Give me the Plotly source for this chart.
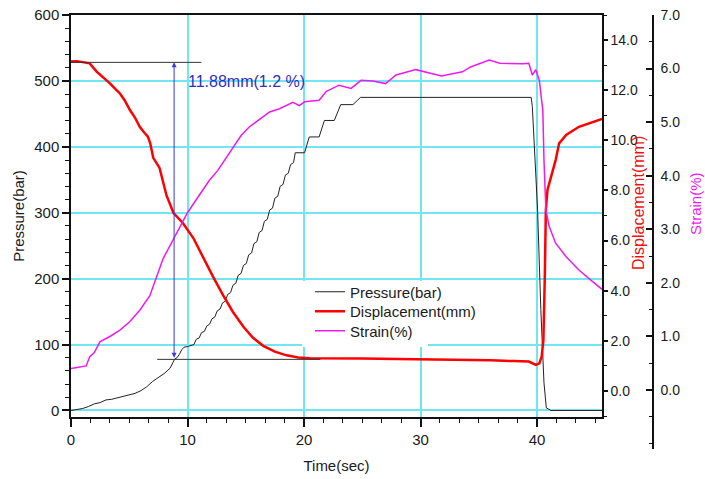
import plotly.graph_objects as go

# ---------------- data ----------------
time_p = [0, 0.5, 1.0, 1.5, 2.0, 2.5, 3.0, 3.5, 4.0, 4.5, 5.0, 5.5, 6.0, 6.5, 7.0, 7.5,
          8.0, 8.5, 8.7, 8.9, 9.1, 9.3, 9.5, 9.7, 10.0, 10.55, 10.75, 11.0, 11.2, 11.45,
          11.65, 11.9, 12.1, 12.35, 12.55, 12.8, 13.0, 13.25, 13.45, 13.7, 13.9, 14.15,
          14.35, 14.6, 14.8, 15.05, 15.25, 15.5, 15.7, 15.95, 16.15, 16.4, 16.6, 16.85,
          17.05, 17.3, 17.5, 17.75, 17.95, 18.2, 18.4, 18.65, 18.85, 19.1, 19.25, 20.05,
          20.45, 21.3, 21.75, 22.6, 23.15, 24.2, 24.85, 39.5, 39.6, 39.76, 40.05, 40.33,
          40.6, 40.8, 41.2, 45.58]
pressure = [0, 1, 3, 6, 10, 12, 16, 17, 19, 22, 23, 26, 30, 36, 44, 50,
            56, 64, 70, 78, 80, 85, 92, 96, 97, 100, 108, 110, 118, 120,
            128, 131, 139, 142, 151, 154, 163, 166, 176, 179, 190, 193,
            205, 208, 220, 223, 236, 239, 253, 256, 270, 273, 287, 290,
            304, 307, 322, 325, 340, 343, 357, 360, 373, 376, 391, 391,
            415, 415, 440, 440, 464, 464, 475, 475, 461, 405, 304, 153,
            42, 4, 0, 0]

time_d = [0, 0.5, 1.0, 1.6, 2.2, 2.8, 3.34, 3.8, 4.2, 4.6, 5.06, 5.5, 5.9, 6.3, 6.6,
          6.8, 7.06, 7.6, 8.2, 8.8, 9.6, 10.5, 11.3, 12.2, 13.05, 13.9, 14.8, 15.6,
          16.5, 17.5, 18.5, 19.5, 20.5, 22.0, 25.0, 28.0, 30.2, 33.0, 36.0, 38.0,
          39.3, 39.9, 40.2, 40.4, 40.55, 40.67, 40.76, 40.9, 41.2, 41.6, 41.9, 42.5,
          43.6, 44.8, 45.58]
displacement = [13.14, 13.15, 13.12, 13.07, 12.74, 12.5, 12.27, 12.05, 11.87, 11.6, 11.21,
                10.9, 10.54, 10.3, 10.15, 9.88, 9.3, 8.9, 7.8, 7.1, 6.7, 6.1, 5.35, 4.55,
                3.82, 3.15, 2.56, 2.13, 1.8, 1.57, 1.42, 1.33, 1.30, 1.30, 1.29, 1.27,
                1.26, 1.25, 1.22, 1.19, 1.17, 1.04, 1.10, 1.37, 2.03, 4.56, 7.22, 8.02,
                8.55, 9.21, 9.88, 10.21, 10.54, 10.74, 10.85]

time_s = [0, 0.77, 1.3, 1.6, 2.0, 2.48, 3.34, 4.2, 5.06, 5.9, 6.77, 7.9, 8.8, 10.0,
          11.05, 11.9, 12.6, 13.6, 14.6, 15.3, 16.2, 17.05, 17.9, 19.05, 19.6, 20.05,
          21.3, 21.9, 23.0, 24.05, 24.9, 25.9, 27.0, 27.9, 29.6, 30.2, 31.8, 33.6,
          34.3, 35.9, 36.8, 38.8, 39.3, 39.6, 39.9, 40.2, 40.5, 40.6, 40.76, 41.05,
          41.6, 42.5, 43.6, 44.8, 45.58]
strain = [0.40, 0.43, 0.45, 0.62, 0.70, 0.90, 1.0, 1.12, 1.28, 1.49, 1.76, 2.45, 2.82,
          3.31, 3.65, 3.92, 4.1, 4.42, 4.75, 4.91, 5.06, 5.19, 5.25, 5.37, 5.31, 5.38,
          5.41, 5.57, 5.69, 5.63, 5.78, 5.77, 5.72, 5.88, 5.98, 5.95, 5.86, 5.94,
          6.03, 6.16, 6.10, 6.09, 6.10, 5.88, 5.98, 5.78, 5.22, 4.29, 3.36, 3.05,
          2.74, 2.49, 2.24, 2.02, 1.88]

x_ticks = [0, 10, 20, 30, 40]
strain_ticks = [0, 1, 2, 3, 4, 5, 6, 7]

# measurement annotation values (displacement units)
disp_top, disp_bottom = 13.11, 1.26
label_text = "11.88mm(1.2 %)"

# ---------------- layout geometry ----------------
W, H = 705, 479
ML, MR, MT, MB = 71, 10, 15, 30
PW, PH = W - ML - MR, H - MT - MB
x_dom = [0, (602 - ML) / PW]
y_dom = [((H - MB) - 417) / PH, 1]

def px_x(px):
    return (px - ML) / PW

def px_y(py):
    return ((H - MB) - py) / PH

GRID = "#72e6f0"
FONT = "Liberation Sans, Arial, sans-serif"
TXT = "#1a1a1a"

fig = go.Figure()
fig.add_trace(go.Scatter(x=time_p, y=pressure, mode="lines", name="Pressure(bar)",
                         line=dict(color="#222222", width=1), xaxis="x", yaxis="y",
                         legend="legend"))
fig.add_trace(go.Scatter(x=time_d, y=displacement, mode="lines", name="Displacement(mm)",
                         line=dict(color="#ff0000", width=2.5), xaxis="x", yaxis="y2",
                         legend="legend2"))
fig.add_trace(go.Scatter(x=time_s, y=strain, mode="lines", name="Strain(%)",
                         line=dict(color="#ee1aee", width=1.5), xaxis="x2", yaxis="y3",
                         legend="legend3"))

axis_line = dict(showline=True, linecolor="#111111", linewidth=1.5, zeroline=False)
leg_common = dict(xanchor="left", yanchor="middle", bgcolor="rgba(0,0,0,0)",
                  borderwidth=0, font=dict(size=15, color=TXT), itemwidth=30)
leg_x = px_x(310)

fig.update_layout(
    width=W, height=H,
    margin=dict(l=ML, r=MR, t=MT, b=MB, autoexpand=False),
    paper_bgcolor="white", plot_bgcolor="rgba(0,0,0,0)",
    font=dict(family=FONT, size=15, color=TXT),
    showlegend=True,
    legend=dict(x=leg_x, y=px_y(292), **leg_common),
    legend2=dict(x=leg_x, y=px_y(311.5), **leg_common),
    legend3=dict(x=leg_x, y=px_y(331), **leg_common),
    xaxis=dict(domain=x_dom, range=[0, 45.58], anchor="y", tickmode="array",
               tickvals=x_ticks, ticks="outside", ticklen=8, tickwidth=1.5,
               tickcolor="#111111", mirror=True,
               minor=dict(dtick=10 / 6, tick0=0, ticks="outside", ticklen=4,
                          tickwidth=1, tickcolor="#111111", showgrid=False),
               showgrid=True, gridcolor=GRID, gridwidth=1.5,
               title=dict(text="Time(sec)", font=dict(size=15), standoff=14),
               **axis_line),
    yaxis=dict(domain=y_dom, range=[-9.9, 600], anchor="x", dtick=100,
               ticks="outside", ticklen=7, tickwidth=1.5, tickcolor="#111111",
               minor=dict(dtick=20, ticks="outside", ticklen=4, tickwidth=1,
                          tickcolor="#111111", showgrid=False),
               showgrid=True, gridcolor=GRID, gridwidth=1.5,
               title=dict(text="Pressure(bar)", font=dict(size=15), standoff=6),
               **axis_line),
    yaxis2=dict(overlaying="y", side="right", anchor="x", range=[-1.04, 15.0],
                dtick=2, tickformat=".1f", ticks="outside", ticklen=4, tickwidth=1.5,
                tickcolor="#111111", tickfont=dict(size=14),
                minor=dict(dtick=1, ticks="outside", ticklen=3, tickwidth=1,
                           tickcolor="#111111", showgrid=False),
                showgrid=False, **axis_line),
    xaxis2=dict(domain=x_dom, range=[0, 45.58], anchor="y3", visible=False),
    yaxis3=dict(domain=[0, 1], anchor="free", position=px_x(653), side="right",
                range=[-1.10, 7.0], tickmode="array", tickvals=strain_ticks,
                ticktext=[f"{v:.1f}" for v in strain_ticks], tickfont=dict(size=14),
                ticks="inside", ticklen=6, tickwidth=1.5, tickcolor="#111111",
                ticklabelstandoff=4,
                minor=dict(dtick=0.5, ticks="inside", ticklen=3, tickwidth=1,
                           tickcolor="#111111", showgrid=False),
                showgrid=False, **axis_line),
)

# white legend backing (covers the grid like the reference legend box)
fig.add_shape(type="rect", xref="paper", yref="paper", layer="above",
              x0=px_x(302), x1=px_x(428), y0=px_y(347), y1=px_y(281),
              fillcolor="white", line=dict(width=0))

# measurement guide lines
fig.add_shape(type="line", xref="x", yref="y2", x0=0, x1=11.2, y0=disp_top, y1=disp_top,
              line=dict(color="#333333", width=1))
fig.add_shape(type="line", xref="x", yref="y2", x0=7.4, x1=21.4, y0=disp_bottom,
              y1=disp_bottom, line=dict(color="#333333", width=1))

# double arrow
fig.add_annotation(x=8.85, y=disp_top, xref="x", yref="y2", ax=8.85, ay=disp_bottom,
                   axref="x", ayref="y2", text="", showarrow=True, arrowhead=2,
                   startarrowhead=2, arrowside="end+start", arrowsize=1, arrowwidth=1,
                   arrowcolor="#3a3ae0", standoff=0, startstandoff=0)
fig.add_annotation(x=9.87, y=12.34, xref="x", yref="y2", text=label_text, showarrow=False,
                   xanchor="left", yanchor="middle",
                   font=dict(size=16, color="#2f2fc8"))

# right-hand axis titles
fig.add_annotation(x=px_x(638), y=px_y(203), xref="paper", yref="paper",
                   xanchor="center", yanchor="middle",
                   text="Displacement(mm)", textangle=-90, showarrow=False,
                   font=dict(size=16, color="#ee1111"))
fig.add_annotation(x=px_x(696), y=px_y(204), xref="paper", yref="paper",
                   xanchor="center", yanchor="middle",
                   text="Strain(%)", textangle=-90, showarrow=False,
                   font=dict(size=15, color="#ee1aee"))

fig.write_html("out.html", config={"displayModeBar": False},
               post_script="document.body.style.margin='0px';"
                           "document.body.style.padding='0px';")
